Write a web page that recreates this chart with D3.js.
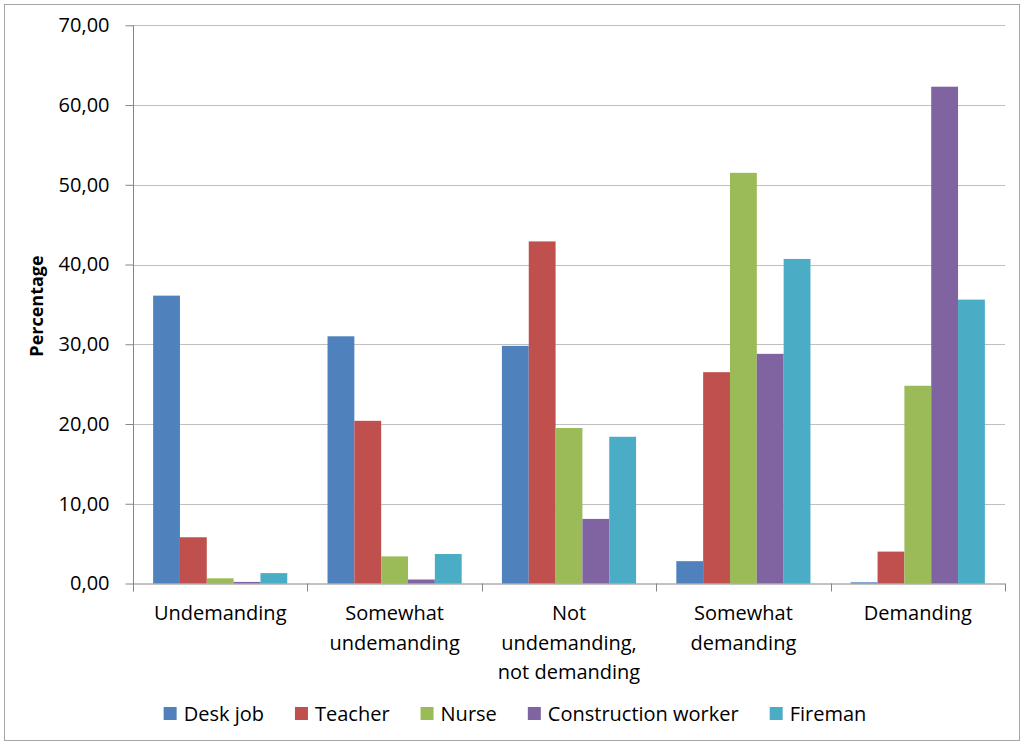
<!DOCTYPE html>
<html>
<head>
<meta charset="utf-8">
<script src="https://cdn.jsdelivr.net/npm/d3@7"></script>
<style>
  html, body { margin: 0; padding: 0; background: #fff; }
  svg { display: block; font-family: "Open Sans", sans-serif; }
</style>
</head>
<body>
<svg id="chart" width="1024" height="745"></svg>
<script>
const categories = [
  ["Undemanding"],
  ["Somewhat", "undemanding"],
  ["Not", "undemanding,", "not demanding"],
  ["Somewhat", "demanding"],
  ["Demanding"]
];
const seriesNames = ["Desk job", "Teacher", "Nurse", "Construction worker", "Fireman"];
const deskJob      = [36.1, 31.0, 29.8, 2.8, 0.15];
const teacher      = [5.8, 20.4, 42.9, 26.5, 4.0];
const nurse        = [0.65, 3.4, 19.5, 51.5, 24.8];
const construction = [0.2, 0.5, 8.1, 28.8, 62.3];
const fireman      = [1.3, 3.7, 18.4, 40.7, 35.6];
const yTicks = [0, 10, 20, 30, 40, 50, 60, 70];
const colors = ["#4F81BD", "#C0504D", "#9BBB59", "#8064A2", "#4BACC6"];

const seriesValues = [deskJob, teacher, nurse, construction, fireman];
const catKeys = categories.map((c, i) => i);

const svg = d3.select("#chart");
const pLeft = 133, pRight = 1005, pTop = 25.3, pBottom = 583.5;

// outer border
svg.append("rect").attr("x", 4.5).attr("y", 4.5).attr("width", 1015).attr("height", 736)
  .attr("fill", "#fff").attr("stroke", "#A6A6A6").attr("stroke-width", 1);

const y = d3.scaleLinear().domain([0, 70]).range([pBottom, pTop]);
const x0 = d3.scaleBand().domain(catKeys).range([pLeft, pRight]).padding(0);
const bw = x0.bandwidth();
const gapHalf = bw * 0.75 / 6.5;
const x1 = d3.scaleBand().domain(seriesNames).range([gapHalf, bw - gapHalf]).padding(0);

// gridlines
svg.append("g").selectAll("line").data(yTicks.filter(t => t > 0)).join("line")
  .attr("x1", pLeft).attr("x2", pRight)
  .attr("y1", d => Math.round(y(d)) + 0.5).attr("y2", d => Math.round(y(d)) + 0.5)
  .attr("stroke", "#BFBFBF").attr("stroke-width", 1.2);

// bars
const groups = svg.append("g").selectAll("g").data(catKeys).join("g")
  .attr("transform", d => `translate(${x0(d)},0)`);
groups.selectAll("rect").data(ci => seriesNames.map((s, si) => ({ s, si, v: seriesValues[si][ci] })))
  .join("rect")
  .attr("x", d => x1(d.s))
  .attr("width", x1.bandwidth())
  .attr("y", d => y(d.v))
  .attr("height", d => y(0) - y(d.v))
  .attr("fill", d => colors[d.si]);

// y axis
const yAxis = d3.axisLeft(y).tickValues(yTicks).tickSize(8).tickPadding(16)
  .tickFormat(d => d3.format(".2f")(d).replace(".", ","));
const gy = svg.append("g").attr("transform", `translate(${pLeft + 0.5},0)`).call(yAxis);
gy.select(".domain").attr("stroke", "#868686").attr("d", `M0,${pTop}V${pBottom + 8}`);
gy.selectAll(".tick line").attr("stroke", "#868686");
gy.selectAll(".tick text").attr("font-size", 20).attr("fill", "#000")
  .attr("font-family", "'Open Sans', sans-serif");

// x axis line and ticks
svg.append("line").attr("x1", pLeft).attr("x2", pRight).attr("y1", pBottom + 0.5).attr("y2", pBottom + 0.5)
  .attr("stroke", "#868686");
const bounds = catKeys.map(k => x0(k)).concat([pRight]);
svg.append("g").selectAll("line").data(bounds).join("line")
  .attr("x1", d => Math.round(d) + 0.5).attr("x2", d => Math.round(d) + 0.5)
  .attr("y1", pBottom).attr("y2", pBottom + 8)
  .attr("stroke", "#868686");

// category labels
const catG = svg.append("g");
categories.forEach((lines, i) => {
  const t = catG.append("text").attr("text-anchor", "middle")
    .attr("x", x0(i) + bw / 2).attr("y", 620)
    .attr("font-size", 20).attr("fill", "#000");
  lines.forEach((ln, j) => {
    t.append("tspan").attr("x", x0(i) + bw / 2).attr("y", 620 + j * 29.5).text(ln);
  });
});

// y title
svg.append("text").attr("transform", "translate(43,306) rotate(-90)")
  .attr("text-anchor", "middle").attr("font-size", 18).attr("font-weight", "bold")
  .attr("fill", "#000").text("Percentage");

// legend
const lg = svg.append("g");
const items = seriesNames.map((name, i) => {
  const g = lg.append("g");
  g.append("rect").attr("x", 0).attr("y", -7).attr("width", 13).attr("height", 13).attr("fill", colors[i]);
  const t = g.append("text").attr("x", 20).attr("y", 7).attr("font-size", 20).attr("fill", "#000").text(name);
  return { g, w: 20 + t.node().getComputedTextLength() };
});
const spacing = 31;
const total = d3.sum(items, d => d.w) + spacing * (items.length - 1);
let cx = 515 - total / 2;
items.forEach(it => { it.g.attr("transform", `translate(${cx},714)`); cx += it.w + spacing; });
</script>
</body>
</html>
